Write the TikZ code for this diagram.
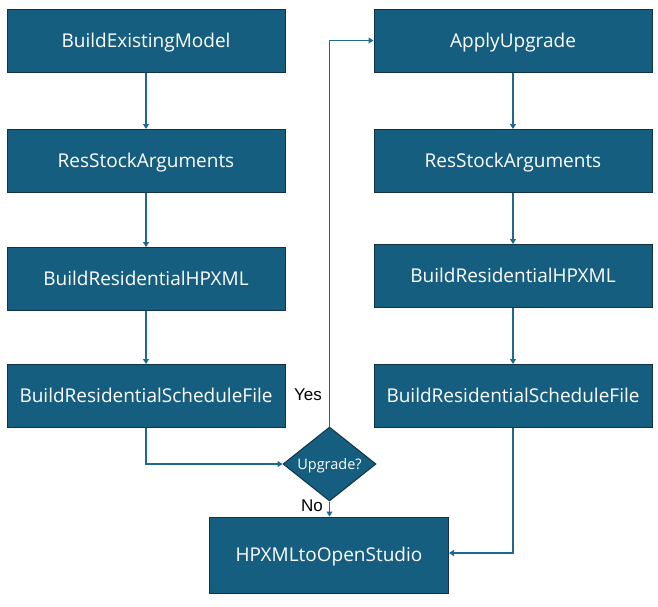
\documentclass[tikz,border=0pt]{standalone}
\usepackage{fontspec}
\setmainfont{Open Sans}
\newfontfamily\labelfont{Liberation Sans}
\usetikzlibrary{shapes.geometric,arrows.meta}
\definecolor{boxfill}{RGB}{22,94,128}
\definecolor{boxline}{RGB}{16,52,70}
\definecolor{conn}{RGB}{30,105,142}
\tikzset{
  x=1pt,y=-1pt,
  stepbox/.style={draw=boxline,line width=1pt,fill=boxfill,text=white,
    minimum width=278pt,minimum height=63pt,inner sep=0pt,
    text height=13.6pt,text depth=0pt,
    font=\fontsize{19}{22}\selectfont},
  decision/.style={diamond,draw=boxline,line width=1pt,fill=boxfill,text=white,
    minimum width=93pt,minimum height=74pt,inner sep=0pt,aspect=1.26,
    text height=10.4pt,text depth=0pt,
    font=\fontsize{14.5}{17}\selectfont},
  conn/.style={draw=conn,line width=1.1pt,-{Triangle[length=5pt,width=6pt]}},
  lbl/.style={font=\labelfont\fontsize{17}{20}\selectfont,text=black}
}
\begin{document}
\begin{tikzpicture}
\useasboundingbox (0,0) rectangle (658,606);
\node[stepbox] (a1) at (146,40.5) {BuildExistingModel};
\node[stepbox] (a2) at (146,161) {ResStockArguments};
\node[stepbox] (a3) at (146,279) {BuildResidentialHPXML};
\node[stepbox] (a4) at (146,396) {BuildResidentialScheduleFile};
\node[stepbox] (b1) at (513,40.5) {ApplyUpgrade};
\node[stepbox] (b2) at (513,161) {ResStockArguments};
\node[stepbox] (b3) at (513,276) {BuildResidentialHPXML};
\node[stepbox] (b4) at (513,396) {BuildResidentialScheduleFile};
\node[stepbox,minimum width=239pt,minimum height=76pt] (h) at (329,555) {HPXMLtoOpenStudio};
\node[decision,minimum width=93pt,minimum height=74pt] (d) at (329.5,464) {Upgrade?};
\coordinate (ya) at (329.5,40.5);
\coordinate (la) at (146,464);
\coordinate (ra) at (513,553);
\draw[conn] (a1) -- (a2);
\draw[conn] (a2) -- (a3);
\draw[conn] (a3) -- (a4);
\draw[conn] (b1) -- (b2);
\draw[conn] (b2) -- (b3);
\draw[conn] (b3) -- (b4);
\draw[conn] (a4.south) -- (la) -- (d.west);
\draw[conn] (d.north) -- (ya) -- (b1.west);
\draw[conn] (d.south) -- (h.north -| d.south);
\draw[conn] (b4.south) -- (ra) -- (h.east |- ra);
\node[lbl] (yes) at (308,395) {Yes};
\node[lbl] (no) at (312,506) {No};
\end{tikzpicture}
\end{document}
